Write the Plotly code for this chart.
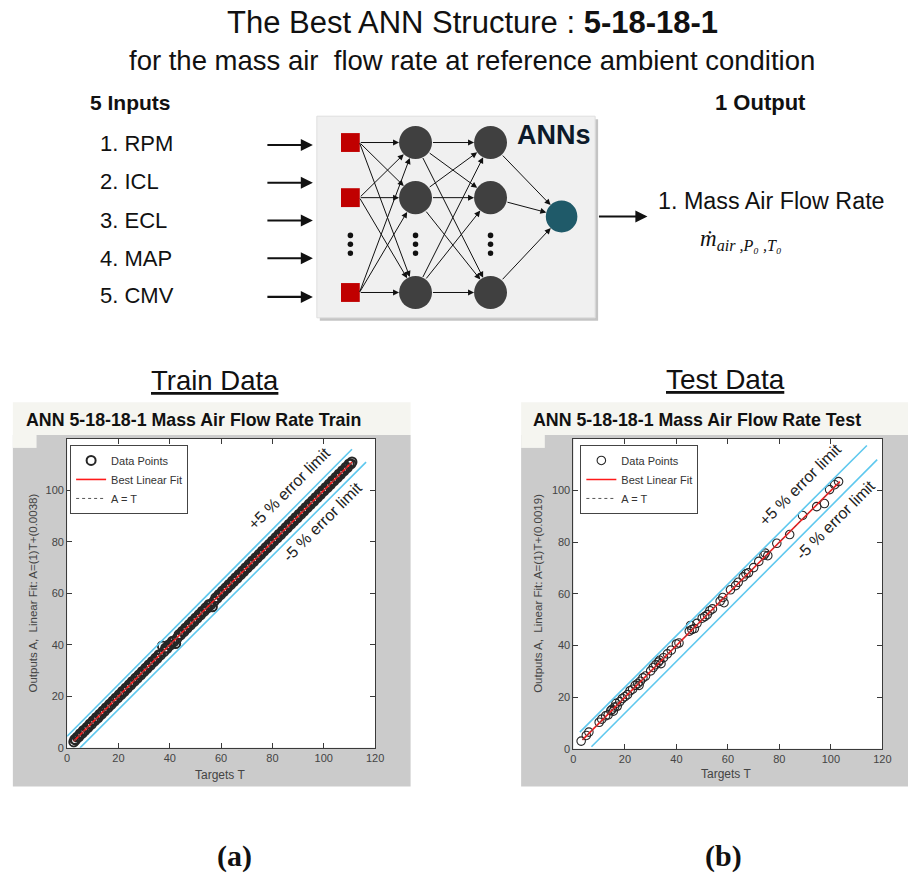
import plotly.graph_objects as go

# ---------------- data ----------------
train_T = [2.6, 3.0, 3.3, 3.9, 4.5, 5.1, 5.8, 6.3, 7.0, 7.7,
           8.2, 8.9, 9.5, 10.1, 10.8, 11.4, 12.0, 12.7, 13.3, 13.9,
           14.6, 15.2, 15.9, 16.5, 17.1, 17.8, 18.4, 19.0, 19.7, 20.3,
           21.0, 21.6, 22.2, 22.9, 23.5, 24.2, 24.8, 25.4, 26.1, 26.7,
           27.4, 28.0, 28.7, 29.3, 29.9, 30.6, 31.2, 31.9, 32.5, 33.2,
           33.8, 34.5, 35.1, 35.8, 36.4, 37.1, 37.7, 38.4, 39.0, 39.7,
           40.3, 41.0, 41.6, 42.3, 42.9, 43.6, 44.2, 44.9, 45.5, 46.2,
           46.8, 47.5, 48.1, 48.8, 49.4, 50.1, 50.7, 51.4, 52.0, 52.7,
           53.3, 54.0, 54.6, 55.3, 55.9, 56.6, 57.2, 57.9, 58.5, 59.2,
           59.8, 60.5, 61.1, 61.8, 62.4, 63.1, 63.7, 64.4, 65.0, 65.7,
           66.3, 67.0, 67.6, 68.3, 68.9, 69.6, 70.2, 70.9, 71.5, 72.2,
           72.8, 73.5, 74.1, 74.8, 75.4, 76.1, 76.7, 77.4, 78.0, 78.7,
           79.3, 80.0, 80.6, 81.3, 81.9, 82.6, 83.2, 83.9, 84.5, 85.2,
           85.8, 86.5, 87.1, 87.8, 88.4, 89.1, 89.7, 90.4, 91.0, 91.7,
           92.3, 93.0, 93.6, 94.3, 94.9, 95.6, 96.2, 96.9, 97.5, 98.2,
           98.8, 99.5, 100.1, 100.8, 101.4, 102.1, 102.7, 103.4, 104.0, 104.7,
           105.3, 106.0, 106.6, 107.3, 107.9, 108.6, 109.2, 109.9, 110.6, 111.0]
train_A = [2.3, 3.3, 3.1, 4.2, 4.3, 5.5, 5.6, 6.7, 6.8, 8.0,
           8.0, 9.3, 9.2, 10.5, 10.6, 11.8, 11.7, 13.1, 13.0, 14.3,
           14.3, 15.6, 15.6, 16.9, 16.8, 18.2, 18.1, 19.4, 19.4, 20.7,
           20.7, 22.0, 21.9, 23.3, 23.2, 24.6, 24.5, 25.8, 25.8, 27.1,
           27.1, 28.4, 28.4, 29.7, 29.6, 31.0, 30.9, 32.3, 32.2, 33.6,
           33.5, 34.9, 34.8, 36.2, 36.1, 39.6, 37.4, 38.8, 38.7, 40.1,
           40.0, 41.4, 41.3, 40.5, 42.6, 44.0, 43.9, 45.3, 45.2, 46.6,
           46.5, 47.9, 47.8, 49.2, 49.1, 50.5, 50.4, 51.8, 51.7, 53.1,
           53.0, 54.4, 54.3, 55.7, 55.6, 54.8, 56.9, 58.3, 58.2, 59.6,
           59.5, 60.9, 60.8, 62.2, 62.1, 63.5, 63.4, 64.8, 64.7, 66.1,
           66.0, 67.4, 67.3, 68.7, 68.6, 70.0, 69.9, 71.3, 71.2, 72.6,
           72.5, 73.9, 73.8, 75.2, 75.1, 76.5, 76.4, 77.8, 77.7, 79.1,
           79.0, 80.4, 80.3, 81.7, 81.6, 83.0, 82.9, 84.3, 84.2, 85.6,
           85.5, 86.9, 86.8, 88.2, 88.1, 89.5, 89.4, 90.8, 90.7, 92.1,
           92.0, 93.4, 93.3, 94.7, 94.6, 96.0, 95.9, 97.3, 97.2, 98.6,
           98.5, 99.9, 99.8, 101.2, 101.1, 102.5, 102.4, 103.8, 103.7, 105.1,
           105.0, 106.4, 106.3, 107.7, 107.6, 109.0, 108.9, 110.3, 110.3, 111.1]

test_T = [3.0, 5.0, 6.0, 10.0, 11.0, 12.5, 13.5, 14.5, 15.0, 15.5,
          16.0, 16.5, 17.0, 18.0, 19.0, 20.0, 21.0, 22.0, 23.0, 24.0,
          25.0, 25.5, 26.0, 27.0, 28.0, 30.0, 31.0, 32.0, 33.0, 33.5,
          34.0, 35.0, 36.5, 38.0, 40.0, 41.0, 45.0, 45.5, 46.0, 47.0,
          48.0, 50.0, 51.0, 52.0, 53.0, 54.0, 57.0, 58.0, 58.5, 61.0,
          63.0, 64.0, 66.0, 67.0, 68.0, 70.0, 72.0, 74.0, 74.5, 75.5,
          79.0, 84.0, 89.0, 94.5, 97.5, 99.5, 101.5, 103.0]
test_A = [3.0, 5.2, 6.5, 10.3, 11.5, 12.8, 13.2, 14.8, 15.3, 14.6,
          16.2, 17.6, 16.5, 18.3, 19.5, 20.2, 21.0, 22.5, 23.1, 24.6,
          25.3, 24.6, 26.2, 27.5, 28.2, 30.2, 31.5, 32.6, 33.6, 34.3,
          33.0, 35.3, 36.8, 38.2, 40.6, 41.0, 45.6, 47.8, 46.2, 46.6,
          48.6, 50.6, 51.2, 52.0, 53.5, 54.2, 57.2, 58.6, 56.6, 61.6,
          63.2, 64.5, 66.6, 67.8, 68.2, 70.2, 72.6, 75.0, 75.8, 74.8,
          79.6, 83.0, 90.4, 93.8, 95.0, 100.4, 102.3, 103.5]

# linear fit A = (1)T + b
train_fit_slope, train_fit_intercept = 1.0, 0.0038
test_fit_slope, test_fit_intercept = 1.0, 0.0019
train_fit_T = [2.6, 111.0]
test_fit_T = [3.5, 103.5]

# +/-5 % error limit lines (end points)
train_up_T, train_up_A = [0.0, 111.0], [4.5, 116.0]
train_lo_T, train_lo_A = [5.0, 116.5], [0.0, 111.0]
test_up_T, test_up_A = [2.5, 114.0], [6.5, 117.5]
test_lo_T, test_lo_A = [7.0, 118.0], [0.8, 112.0]

x_ticks = [0, 20, 40, 60, 80, 100, 120]
y_ticks = [0, 20, 40, 60, 80, 100]
inputs = ["1. RPM", "2. ICL", "3. ECL", "4. MAP", "5. CMV"]

# ---------------- helpers ----------------
W, H = 917, 880
def X(p):
    return p / W
def Y(p):
    return 1 - p / H

SANS = "Liberation Sans, Arial, sans-serif"
SERIF = "Liberation Serif, Times New Roman, serif"
BLUE = "#5ec8ee"

fig = go.Figure()

def add_panel(T, A, fit_T, slope, icpt, upT, upA, loT, loA, xa, ya, leg, msize, mwidth):
    fig.add_trace(go.Scatter(x=T, y=A, mode="markers", name="Data Points",
                             marker=dict(symbol="circle-open", size=msize, color="#262626",
                                         line=dict(width=mwidth)),
                             xaxis=xa, yaxis=ya, legend=leg, legendrank=1))
    fit_A = [slope * t + icpt for t in fit_T]
    fig.add_trace(go.Scatter(x=fit_T, y=fit_A, mode="lines", name="Best Linear Fit",
                             line=dict(color="#ff1a1a", width=1.6),
                             xaxis=xa, yaxis=ya, legend=leg, legendrank=2))
    fig.add_trace(go.Scatter(x=fit_T, y=fit_T, mode="lines", name="A = T",
                             line=dict(color="#555555", width=1, dash="dot"),
                             xaxis=xa, yaxis=ya, legend=leg, legendrank=3))
    for ex, ey in ((upT, upA), (loT, loA)):
        fig.add_trace(go.Scatter(x=ex, y=ey, mode="lines", showlegend=False,
                                 line=dict(color=BLUE, width=1.6),
                                 xaxis=xa, yaxis=ya, hoverinfo="skip"))

add_panel(train_T, train_A, train_fit_T, train_fit_slope, train_fit_intercept,
          train_up_T, train_up_A, train_lo_T, train_lo_A, "x", "y", "legend", 9, 2)
add_panel(test_T, test_A, test_fit_T, test_fit_slope, test_fit_intercept,
          test_up_T, test_up_A, test_lo_T, test_lo_A, "x2", "y2", "legend2", 8.5, 1.1)

ax_common = dict(range=[0, 120], showgrid=False, zeroline=False,
                 showline=True, mirror="ticks", linecolor="#3a3a3a", linewidth=1,
                 ticks="inside", ticklen=5, tickcolor="#3a3a3a",
                 tickfont=dict(size=11, color="#444444", family=SANS), fixedrange=True)

legend_common = dict(xanchor="left", yanchor="top", bgcolor="white",
                     bordercolor="#444444", borderwidth=1, tracegroupgap=0,
                     font=dict(size=11, color="#333333", family=SANS), itemwidth=30)

fig.update_layout(
    width=W, height=H, margin=dict(l=0, r=0, t=0, b=0),
    paper_bgcolor="white", plot_bgcolor="white",
    xaxis=dict(domain=[X(65), X(377)], anchor="y", tickvals=x_ticks, **ax_common),
    yaxis=dict(domain=[Y(753), Y(442)], anchor="x", tickvals=y_ticks, **ax_common),
    xaxis2=dict(domain=[X(578), X(891)], anchor="y2", tickvals=x_ticks, **ax_common),
    yaxis2=dict(domain=[Y(754), Y(442)], anchor="x2", tickvals=y_ticks, **ax_common),
    legend=dict(x=X(68), y=Y(448), **legend_common),
    legend2=dict(x=X(585), y=Y(448), **legend_common),
)

shapes = []
def rect(x0, y0, x1, y1, fill, line=None, layer="below"):
    shapes.append(dict(type="rect", xref="paper", yref="paper",
                       x0=X(x0), x1=X(x1), y0=Y(y1), y1=Y(y0),
                       fillcolor=fill, line=dict(width=0 if line is None else 1,
                                                 color=line or fill), layer=layer))
def circle(cx, cy, r, fill, layer="above"):
    shapes.append(dict(type="circle", xref="paper", yref="paper",
                       x0=X(cx - r), x1=X(cx + r), y0=Y(cy + r), y1=Y(cy - r),
                       fillcolor=fill, line=dict(width=0, color=fill), layer=layer))

# figure-window backgrounds for the two MATLAB panels
for (l, r) in ((10, 413), (525, 917)):
    rect(l, 405, r, 438, "#f5f5f0")
    rect(l, 438, r, 792, "#cbcbcb")
    rect(l, 438, l + 24, 451, "#f5f5f0")
# white axes areas
rect(65, 442, 377, 753, "white")
rect(578, 442, 891, 754, "white")

# ANN diagram box with shadow
rect(321, 120, 603, 323, "#c4c4c4", layer="above")
rect(318, 117, 600, 320, "#f0f0f0", line="#dedede", layer="above")

sq_x, sq_h = 352, 9.5
node_y = [143.5, 199, 294.5]
h1_x, h2_x, r_h = 418, 494, 16.7
out_x, out_y, r_o = 566, 218, 16

annotations = []
def arrow(tx, ty, hx, hy, width=1, size=1.2, color="#111111"):
    annotations.append(dict(x=X(hx), y=Y(hy), xref="paper", yref="paper",
                            ax=tx - hx, ay=ty - hy, axref="pixel", ayref="pixel",
                            text="", showarrow=True, arrowhead=2, arrowsize=size,
                            arrowwidth=width, arrowcolor=color, standoff=0, startstandoff=0))

def edge(cx, cy, ox, oy, r):
    dx, dy = ox - cx, oy - cy
    d = (dx * dx + dy * dy) ** 0.5
    return cx + r * dx / d, cy + r * dy / d

# connections
for ys in node_y:
    for yt in node_y:
        hx, hy = edge(h1_x, yt, sq_x + sq_h, ys, r_h)
        arrow(sq_x + sq_h, ys, hx, hy)
for ys in node_y:
    for yt in node_y:
        sx, sy = edge(h1_x, ys, h2_x, yt, r_h)
        hx, hy = edge(h2_x, yt, h1_x, ys, r_h)
        arrow(sx, sy, hx, hy)
for ys in node_y:
    sx, sy = edge(h2_x, ys, out_x, out_y, r_h)
    hx, hy = edge(out_x, out_y, h2_x, ys, r_o)
    arrow(sx, sy, hx, hy)

for yy in node_y:
    shapes.append(dict(type="rect", xref="paper", yref="paper",
                       x0=X(sq_x - sq_h), x1=X(sq_x + sq_h), y0=Y(yy + sq_h), y1=Y(yy - sq_h),
                       fillcolor="#c00000", line=dict(width=0), layer="above"))
    circle(h1_x, yy, r_h, "#404040")
    circle(h2_x, yy, r_h, "#404040")
circle(out_x, out_y, r_o, "#1f5a69")
for xx in (sq_x, h1_x, h2_x):
    for yy in (237, 246, 255):
        circle(xx, yy, 2.8, "#111111")

# input and output arrows
for yy in (146, 184, 222, 260, 299):
    arrow(267, yy, 314, yy, width=2.2, size=1.1)
arrow(603, 218, 653, 218, width=2.2, size=1.1)

def text(x, y, s, size, family=SANS, color="#111111", xanchor="center", angle=0):
    annotations.append(dict(x=X(x), y=Y(y), xref="paper", yref="paper", text=s,
                            showarrow=False, xanchor=xanchor, yanchor="middle",
                            textangle=angle, font=dict(size=size, family=family, color=color)))

text(476, 23, "The Best ANN Structure : <b>5-18-18-1</b>", 31)
text(475, 61, "for the mass air  flow rate at reference ambient condition", 27.5)
text(86, 103, "<b>5 Inputs</b>", 21, xanchor="left")
text(719, 103, "<b>1 Output</b>", 22, xanchor="left")
for s, yy in zip(inputs, (144, 183, 222, 260, 298)):
    text(96, yy, s, 22, xanchor="left")
text(558, 136, "<b>ANNs</b>", 27, color="#0d1a2a")
text(662, 202, "1. Mass Air Flow Rate", 23.3, xanchor="left")
text(704, 242, "<i>ṁ</i><sub><i>air ,P₀ ,T₀</i></sub>", 23, family=SERIF, xanchor="left")

text(215, 383, "<u>Train Data</u>", 27.5)
text(732, 382, "<u>Test Data</u>", 28)
text(193, 423, "<b>ANN 5-18-18-1 Mass Air Flow Rate Train</b>", 17.8)
text(703, 423, "<b>ANN 5-18-18-1 Mass Air Flow Rate Test</b>", 17.8)

text(30, 597, "Outputs A,  Linear Fit: A=(1)T+(0.0038)", 11.5, color="#444444", angle=-90)
text(542, 597, "Outputs A,  Linear Fit: A=(1)T+(0.0019)", 11.5, color="#444444", angle=-90)
text(220, 780, "Targets T", 12, color="#444444")
text(733, 779, "Targets T", 12, color="#444444")

text(290, 492, "+5 % error limit", 16, color="#222222", angle=-45)
text(324, 525, "-5 % error limit", 16, color="#222222", angle=-45)
text(808, 488, "+5 % error limit", 16, color="#222222", angle=-45)
text(844, 523, "-5 % error limit", 16, color="#222222", angle=-45)

text(235, 862, "<b>(a)</b>", 30, family=SERIF)
text(730, 862, "<b>(b)</b>", 30, family=SERIF)

fig.update_layout(shapes=shapes, annotations=annotations)
fig.write_html("out.html")
